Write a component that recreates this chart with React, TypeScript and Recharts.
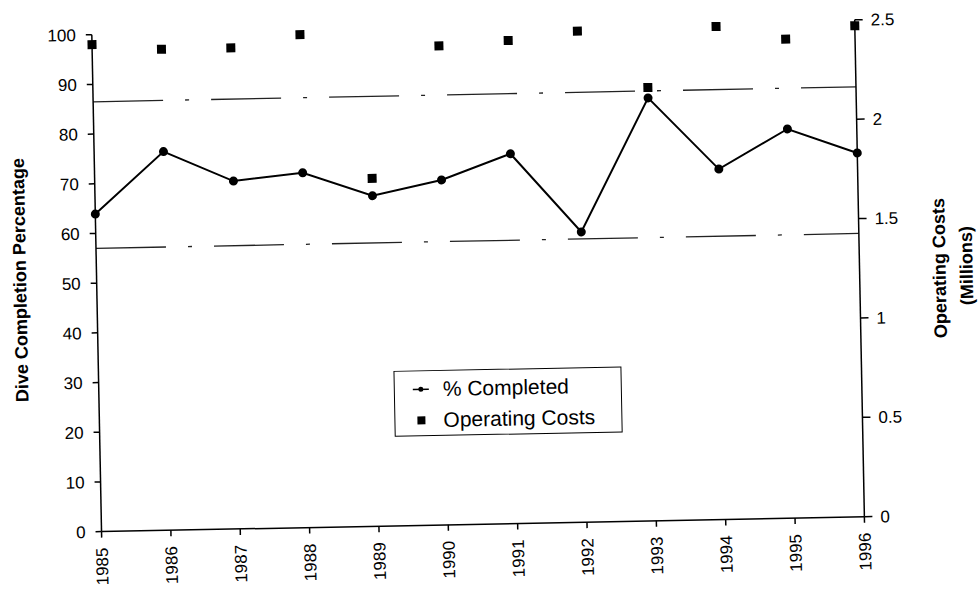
import React from "react";
import {
  LineChart,
  Line,
  XAxis,
  YAxis,
  ReferenceLine,
} from "recharts";

// values
const years = ["1985", "1986", "1987", "1988", "1989", "1990", "1991", "1992", "1993", "1994", "1995", "1996"];
const completedPct = [63.9, 76.2, 70.0, 71.4, 66.5, 69.4, 74.4, 58.4, 85.1, 70.5, 78.3, 73.2];
const operatingCosts = [2.45, 2.42, 2.42, 2.48, 1.75, 2.41, 2.43, 2.47, 2.18, 2.48, 2.41, 2.47];
const leftTicks = [0, 10, 20, 30, 40, 50, 60, 70, 80, 90, 100];
const rightTicks = [0, 0.5, 1, 1.5, 2, 2.5];
const guideValues = [86.5, 57];

const data = years.map((year, i) => ({
  year,
  completed: completedPct[i],
  costs: operatingCosts[i],
}));

const FONT = "'Liberation Sans', Arial, sans-serif";

const YearTick = (props: any) => {
  const { x, y, payload } = props;
  return (
    <g transform={`translate(${x},${y})`}>
      <text
        x={0}
        y={0}
        dy="0.35em"
        transform="rotate(-90)"
        textAnchor="end"
        fill="#000"
        fontSize={17}
        fontFamily={FONT}
      >
        {payload.value}
      </text>
    </g>
  );
};

const SquareDot = (props: any) => {
  const { cx, cy, index } = props;
  if (cx == null || cy == null) return null;
  return <rect key={`sq-${index}`} x={cx - 4.5} y={cy - 4.5} width={9} height={9} fill="#000" />;
};

// legend drawn as an overlay so it doesn't eat into the plot height
const LegendBox = () => (
  <div
    style={{
      position: "absolute",
      left: 392,
      top: 369,
      width: 228,
      height: 66,
      border: "1.5px solid #000",
      boxSizing: "border-box",
      fontFamily: FONT,
      fontSize: 21,
      color: "#000",
      background: "#fff",
    }}
  >
    <svg width={30} height={66} style={{ position: "absolute", left: 12, top: 0 }}>
      <line x1={6} y1={18} x2={22} y2={18} stroke="#000" strokeWidth={1.5} />
      <circle cx={14} cy={18} r={2.5} fill="#000" />
      <rect x={10} y={45} width={8} height={8} fill="#000" />
    </svg>
    <div style={{ position: "absolute", left: 48, top: 5, lineHeight: "26px" }}>% Completed</div>
    <div style={{ position: "absolute", left: 48, top: 36, lineHeight: "26px" }}>Operating Costs</div>
  </div>
);

export default function App() {
  return (
    <div
      style={{
        position: "absolute",
        left: 0,
        top: 0,
        width: 978,
        height: 593,
        background: "#fff",
        transform: "rotate(-1.12deg)",
        transformOrigin: "489px 296px",
      }}
    >
      <LineChart
        width={978}
        height={593}
        data={data}
        margin={{ top: 27, right: 70, bottom: 0, left: 45 }}
      >
        <XAxis
          dataKey="year"
          height={69}
          tick={<YearTick />}
          tickSize={6}
          tickMargin={10}
          interval={0}
          stroke="#000"
          strokeWidth={1.5}
        />
        <YAxis
          yAxisId="left"
          width={52}
          domain={[0, 100]}
          ticks={leftTicks}
          tickSize={6}
          tickMargin={10}
          stroke="#000"
          strokeWidth={1.5}
          tick={{ fill: "#000", fontSize: 17, fontFamily: FONT }}
        />
        <YAxis
          yAxisId="right"
          orientation="right"
          width={48}
          domain={[0, 2.5]}
          ticks={rightTicks}
          tickSize={8}
          tickMargin={8}
          stroke="#000"
          strokeWidth={1.5}
          tick={{ fill: "#000", fontSize: 17, fontFamily: FONT }}
        />
        {guideValues.map((v) => (
          <ReferenceLine
            key={v}
            yAxisId="left"
            y={v}
            stroke="#222"
            strokeWidth={1.3}
            strokeDasharray="70 22 4 22"
          />
        ))}
        <Line
          yAxisId="left"
          dataKey="completed"
          name="% Completed"
          stroke="#000"
          strokeWidth={2}
          dot={{ r: 3.5, fill: "#000", stroke: "#000" }}
          isAnimationActive={false}
        />
        <Line
          yAxisId="right"
          dataKey="costs"
          name="Operating Costs"
          stroke="none"
          dot={<SquareDot />}
          activeDot={false}
          isAnimationActive={false}
        />
      </LineChart>
      <LegendBox />
      <svg
        width={978}
        height={593}
        style={{ position: "absolute", left: 0, top: 0, pointerEvents: "none" }}
      >
        <text
          x={20.5}
          y={271}
          transform="rotate(-90 20.5 271)"
          textAnchor="middle"
          dominantBaseline="central"
          fontFamily={FONT}
          fontWeight="bold"
          fontSize={18}
          fill="#000"
        >
          Dive Completion Percentage
        </text>
        <text
          x={940}
          y={277}
          transform="rotate(-90 940 277)"
          textAnchor="middle"
          dominantBaseline="central"
          fontFamily={FONT}
          fontWeight="bold"
          fontSize={18}
          fill="#000"
        >
          Operating Costs
        </text>
        <text
          x={967}
          y={275}
          transform="rotate(-90 967 275)"
          textAnchor="middle"
          dominantBaseline="central"
          fontFamily={FONT}
          fontWeight="bold"
          fontSize={18}
          fill="#000"
        >
          (Millions)
        </text>
      </svg>
    </div>
  );
}
